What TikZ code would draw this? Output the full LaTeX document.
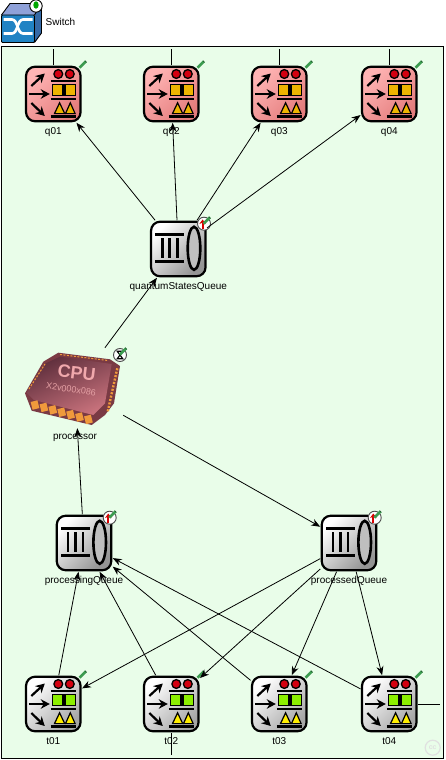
\documentclass[tikz,border=0pt]{standalone}
\usepackage{fontspec}
\setmainfont{Liberation Sans}
\usetikzlibrary{arrows.meta,positioning}

\definecolor{netbg}{HTML}{E9FDE9}
\definecolor{pencilgreen}{HTML}{3C9C50}
\definecolor{cpuorange}{HTML}{F09A3C}
\definecolor{cpudark}{HTML}{7A3A44}
\definecolor{cputop}{HTML}{5E2E3C}
\definecolor{cpulow}{HTML}{C8727C}
\definecolor{cputext}{HTML}{F0A8AC}
\definecolor{cpumodeltext}{HTML}{E4A0A4}
\definecolor{gatered}{HTML}{D40010}
\definecolor{quantumfill}{HTML}{EEB400}
\definecolor{classicfill}{HTML}{8CEE00}
\definecolor{classictri}{HTML}{FFEE00}
\definecolor{quantumlight}{HTML}{FFB4B4}
\definecolor{quantumdark}{HTML}{E47C7C}

\tikzset{
  modulebox/.style={draw=black,line width=2.2pt,rounded corners=9pt,minimum width=54.5pt,
    minimum height=54.5pt,inner sep=0pt,outer sep=1.5pt},
  quantumbox/.style={modulebox,top color=quantumlight,bottom color=quantumdark,shading angle=45},
  classicbox/.style={modulebox,top color=white,bottom color=black!35,shading angle=45},
  queuebox/.style={modulebox,top color=white,bottom color=black!42,shading angle=45},
  modulename/.style={font=\fontsize{10}{12}\selectfont,inner sep=0pt,text height=7.5pt,text depth=2pt},
  wire/.style={line width=0.8pt},
  wirearrow/.style={line width=0.8pt,-{Stealth[length=9pt,width=7pt]}},
  iconarrow/.style={line width=2.2pt,-{Stealth[length=9pt,width=9.5pt]}},
  iconbar/.style={line width=2pt},
}

% little pencil on the upper right of a module
\newcommand{\pencilmark}[1]{
  \draw[pencilgreen,line width=2.6pt] (#1) +(-3.2,3.2) -- +(3.2,-3.2);
  \draw[black!50!pencilgreen,line width=0.6pt] (#1) +(2.2,-3.8) -- +(3.8,-2.2);
}

% router icon: first colour for the squares, second for the triangles
\newcommand{\routericon}[3]{
  \begin{scope}[shift={(#1)}]
    \draw[iconarrow] (-22,-8) -- (-8.5,-20.5);
    \draw[iconarrow] (-24.5,0) -- (-3.5,0);
    \draw[iconarrow] (-22,9) -- (-8.5,22);
    \draw[fill=gatered,line width=1.3pt] (5,-20) circle (4.4);
    \draw[fill=gatered,line width=1.3pt] (16.5,-20) circle (4.4);
    \draw[iconbar] (-2.5,-13.3) -- (23,-13.3);
    \draw[fill=#2,line width=1.4pt] (-1,-9.5) rectangle (9.8,1.5);
    \draw[fill=#2,line width=1.4pt] (11.8,-9.5) rectangle (22.4,1.5);
    \draw[iconbar] (-2.5,4.7) -- (23,4.7);
    \draw[fill=#3,line width=1.2pt] (1.2,19.6) -- (6.3,8.8) -- (11.4,19.6) -- cycle;
    \draw[fill=#3,line width=1.2pt] (12.2,19.6) -- (17,8.8) -- (21.8,19.6) -- cycle;
    \draw[line width=2.4pt] (-2.5,22.3) -- (23,22.3);
    \pencilmark{29.5,-29.5}
  \end{scope}
}

% queue icon with the red arrow badge
\newcommand{\queueicon}[1]{
  \begin{scope}[shift={(#1)}]
    \draw[line width=2.8pt] (-23,-14.7) -- (6,-14.7);
    \draw[line width=2.8pt] (-23,12.3) -- (6,12.3);
    \draw[line width=2.8pt] (-16,-11) -- (-16,9);
    \draw[line width=2.8pt] (-8.5,-11) -- (-8.5,9);
    \draw[line width=2.8pt] (-1,-11) -- (-1,9);
    \draw[fill=black!25,line width=2.6pt] (15.7,-0.7) ellipse (6.3 and 21.5);
    \draw[fill=white,draw=black!70,line width=0.9pt] (25.7,-25.3) circle (6.5);
    \draw[red!85!black,line width=2pt,-{Stealth[length=4.5pt,width=6.5pt]}] (24.3,-19.8) -- (24.3,-29.5);
    \pencilmark{28.5,-28.5}
  \end{scope}
}

\begin{document}
\begin{tikzpicture}[x=1pt,y=-1pt]
  \useasboundingbox (0,0) rectangle (445,760);

  %% network frame
  \draw[fill=netbg,line width=0.9pt] (1,46) rectangle (443,758.5);

  %% switch cube
  \fill[cyan!35!blue!45!white] (1.5,15) -- (10,3.5) -- (41.5,3.5) -- (34.5,15) -- cycle;
  \fill[cyan!50!blue!80!black] (34.5,15) -- (41.5,3.5) -- (41.5,33) -- (34.5,42.5) -- cycle;
  \draw[line width=0.9pt] (1.5,15) -- (10,3.5) -- (41.5,3.5) -- (41.5,33) -- (34.5,42.5);
  \draw[fill=cyan!70!blue!90!black,line width=0.9pt,rounded corners=1pt] (1.5,15) rectangle (34.5,42.5);
  \draw[line width=0.9pt] (34.5,15) -- (41.5,3.5);
  \draw[white,line width=2.6pt] (3.5,19.5) -- (12,19.5) .. controls (18,19.5) and (17,33.5) .. (23,33.5) -- (32.5,33.5);
  \draw[white,line width=2.6pt] (3.5,33.5) -- (12,33.5) .. controls (18,33.5) and (17,19.5) .. (23,19.5) -- (32.5,19.5);
  \draw[fill=white,line width=0.9pt] (36,6) circle (6.2);
  \fill[green!65!black] (36,5) ellipse (2.7 and 3.7);
  \node[modulename,anchor=west] (switchname) at (45.5,23) {Switch};

  %% quantum gates
  \node[quantumbox] (q01) at (53.3,94) {};
  \node[quantumbox] (q02) at (171.3,94) {};
  \node[quantumbox] (q03) at (279.3,94) {};
  \node[quantumbox] (q04) at (389.3,94) {};
  \routericon{q01}{quantumfill}{quantumfill}
  \routericon{q02}{quantumfill}{quantumfill}
  \routericon{q03}{quantumfill}{quantumfill}
  \routericon{q04}{quantumfill}{quantumfill}

  %% classical gates
  \node[classicbox] (t01) at (53.3,704) {};
  \node[classicbox] (t02) at (171.3,704) {};
  \node[classicbox] (t03) at (279.3,704) {};
  \node[classicbox] (t04) at (389.3,704) {};
  \routericon{t01}{classicfill}{classictri}
  \routericon{t02}{classicfill}{classictri}
  \routericon{t03}{classicfill}{classictri}
  \routericon{t04}{classicfill}{classictri}

  %% queues
  \node[queuebox] (quantumStatesQueue) at (178.3,249) {};
  \node[queuebox] (processingQueue) at (84,543) {};
  \node[queuebox] (processedQueue) at (349,543) {};
  \queueicon{quantumStatesQueue}
  \queueicon{processingQueue}
  \queueicon{processedQueue}

  %% processor chip
  \node[minimum width=96pt,minimum height=80pt,inner sep=0pt] (processor) at (75,388) {};
  \fill[cpudark] (58.3,352.7) -- (110,359.3) -- (120,366) -- (114,403.3) -- (105,415)
    -- (91.7,425) -- (31.7,410.7) -- (25,393.3) -- (43.3,361.7) -- cycle;
  \shade[top color=cputop,bottom color=cpulow,shading angle=25]
    (60,356.7) -- (111.7,364) -- (105,403.3) -- (93.3,415) -- (34,400) -- (26.7,392.7) -- (46,363.3) -- cycle;
  \draw[cpuorange,line width=2.4pt,dash pattern=on 2pt off 1.5pt] (117.3,368.3) -- (107.7,411.7);
  \draw[cpuorange,line width=1pt,dash pattern=on 2pt off 1.5pt] (60,354.5) -- (108,360.5);
  \draw[cpuorange,line width=1pt,dash pattern=on 2pt off 1.5pt] (29,389) -- (45,364);
  \foreach \i in {0,...,6}
    \fill[cpuorange,rotate around={14:(35+8.9*\i,405+2.4*\i)}] (31.5+8.9*\i,401+2.4*\i) rectangle +(7,8);
  \node[font=\bfseries\fontsize{18}{18}\selectfont,text=cputext,rotate=-7,inner sep=0pt,text height=10pt,text depth=0pt] (cpuname) at (76.5,374) {CPU};
  \node[font=\fontsize{9}{9}\selectfont,text=cpumodeltext,rotate=-8,inner sep=0pt,text height=5pt,text depth=0pt] (cpumodel) at (71,390) {X2v000x086};
  \draw[fill=white,draw=black!70,line width=0.9pt] (120,355) circle (6.5);
  \draw[line width=1.2pt] (117.3,351.3) -- (122.7,351.3) -- (117.3,358.7) -- (122.7,358.7) -- cycle;
  \pencilmark{123,351.5}

  %% names
  \node[modulename,below=4pt of q01] (q01name) {q01};
  \node[modulename,below=4pt of q02] (q02name) {q02};
  \node[modulename,below=4pt of q03] (q03name) {q03};
  \node[modulename,below=4pt of q04] (q04name) {q04};
  \node[modulename,below=4pt of t01] (t01name) {t01};
  \node[modulename,below=4pt of t02] (t02name) {t02};
  \node[modulename,below=4pt of t03] (t03name) {t03};
  \node[modulename,below=4pt of t04] (t04name) {t04};
  \node[modulename,below=4pt of quantumStatesQueue] (quantumname) {quantumStatesQueue};
  \node[modulename,below=4pt of processingQueue] (processingname) {processingQueue};
  \node[modulename,below=4pt of processedQueue] (processedname) {processedQueue};
  \node[modulename,below=3.5pt of processor] (processorname) {processor};

  %% stubs at the frame
  \coordinate (q01top) at (53.3,49);
  \coordinate (q02top) at (171.3,49);
  \coordinate (q03top) at (279.3,49);
  \coordinate (q04top) at (389.3,49);
  \coordinate (t02end) at (171.3,755);
  \coordinate (t04end) at (440,704);
  \draw[wire] (q01.north) -- (q01top);
  \draw[wire] (q02.north) -- (q02top);
  \draw[wire] (q03.north) -- (q03top);
  \draw[wire] (q04.north) -- (q04top);
  \draw[wire] (t02.south) -- (t02end);
  \draw[wire] (t04.east) -- (t04end);

  %% queue to quantum gates
  \draw[wirearrow] (quantumStatesQueue) -- (q01);
  \draw[wirearrow] (quantumStatesQueue) -- (q02);
  \draw[wirearrow] (quantumStatesQueue) -- (q03);
  \draw[wirearrow] (quantumStatesQueue) -- (q04);

  %% processor
  \draw[wirearrow] (processor) -- (quantumStatesQueue);
  \draw[wirearrow] (processingQueue) -- (processor);
  \draw[wirearrow] (processor) -- (processedQueue);

  %% classical gates to queue
  \draw[wirearrow] (t01) -- (processingQueue);
  \draw[wirearrow] (t02) -- (processingQueue);
  \draw[wirearrow] (t03) -- (processingQueue);
  \draw[wirearrow] (t04) -- (processingQueue);

  %% queue to classical gates
  \draw[wirearrow] (processedQueue) -- (t01);
  \draw[wirearrow] (processedQueue) -- (t02);
  \draw[wirearrow] (processedQueue) -- (t03);
  \draw[wirearrow] (processedQueue) -- (t04);

  %% watermark
  \draw[black!12,line width=1.2pt] (432.7,747.7) circle (7.5);
  \node[font=\bfseries\fontsize{7}{7}\selectfont,text=black!12,inner sep=0pt] (ccmark) at (432.7,747.7) {cc};

\end{tikzpicture}
\end{document}
